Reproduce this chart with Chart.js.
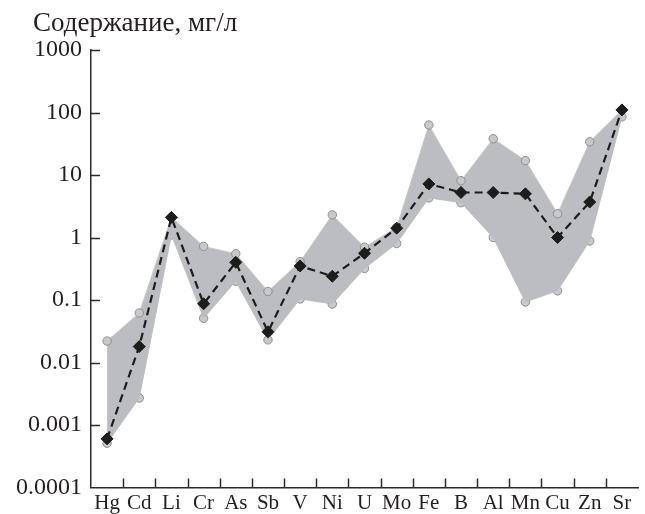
<!DOCTYPE html>
<html>
<head>
<meta charset="utf-8">
<script src="https://cdn.jsdelivr.net/npm/chart.js@4.4.0/dist/chart.umd.min.js"></script>
<style>
  html, body { margin: 0; padding: 0; background: #fff; }
  #wrap { width: 645px; height: 514px; }
</style>
</head>
<body>
<div id="wrap"><canvas id="chart" width="645" height="514"></canvas></div>
<script>
// elements and concentrations (mg/l)
const elements = ["Hg", "Cd", "Li", "Cr", "As", "Sb", "V", "Ni", "U", "Mo", "Fe", "B", "Al", "Mn", "Cu", "Zn", "Sr"];
const maxValues = [0.022, 0.062, 2.1, 0.72, 0.55, 0.137, 0.41, 2.3, 0.70, 1.45, 63, 8.1, 38, 17, 2.4, 34, 110];
const minValues = [0.00051, 0.0027, 1.1, 0.051, 0.20, 0.023, 0.104, 0.086, 0.32, 0.80, 4.3, 3.6, 1.0, 0.093, 0.14, 0.88, 85];
const medianValues = [0.0006, 0.018, 2.1, 0.087, 0.40, 0.031, 0.35, 0.24, 0.56, 1.41, 7.2, 5.25, 5.25, 5.0, 1.0, 3.7, 110];
const yTickValues = [0.0001, 0.001, 0.01, 0.1, 1, 10, 100, 1000];
const yTickLabels = ["0.0001", "0.001", "0.01", "0.1", "1", "10", "100", "1000"];
const yTitle = "Содержание, мг/л";

const axisColor = "#2b2b2b";
const textColor = "#231f20";
const serif = "'Liberation Serif', 'DejaVu Serif', serif";

// ticks are drawn inward, like in the paper figure; axis title sits top-left
const paperAxes = {
  id: "paperAxes",
  afterDraw(chart) {
    const { ctx, chartArea, scales } = chart;
    const len = 9;
    ctx.save();
    ctx.strokeStyle = axisColor;
    ctx.lineWidth = 1.5;
    ctx.beginPath();
    yTickValues.forEach((v) => {
      if (v === yTickValues[0]) return;
      const y = Math.round(scales.y.getPixelForValue(v)) + 0.5;
      ctx.moveTo(chartArea.left, y);
      ctx.lineTo(chartArea.left + len, y);
    });
    for (let i = 1; i < elements.length; i++) {
      const x = Math.round((scales.x.getPixelForValue(i - 1) + scales.x.getPixelForValue(i)) / 2) + 0.5;
      ctx.moveTo(x, chartArea.bottom);
      ctx.lineTo(x, chartArea.bottom - len);
    }
    ctx.stroke();

    ctx.fillStyle = textColor;
    ctx.font = "27px " + serif;
    ctx.textAlign = "left";
    ctx.textBaseline = "alphabetic";
    ctx.fillText(yTitle, 33, 31);
    ctx.restore();
  },
};

const circlePoints = {
  pointStyle: "circle",
  pointRadius: 4.2,
  pointBackgroundColor: "#c9c9cb",
  pointBorderColor: "#8e8e90",
  pointBorderWidth: 1,
};

new Chart(document.getElementById("chart"), {
  type: "line",
  data: {
    labels: elements,
    datasets: [
      {
        label: "median",
        data: medianValues,
        borderColor: "#1c1c1c",
        borderWidth: 2.2,
        borderDash: [8, 5],
        pointStyle: "rectRot",
        pointRadius: 6,
        pointBackgroundColor: "#1c1c1c",
        pointBorderColor: "#1c1c1c",
        pointBorderWidth: 1,
        fill: false,
        order: 0,
      },
      {
        label: "max",
        data: maxValues,
        borderColor: "#c7c8ca",
        borderWidth: 1,
        backgroundColor: "#bcbdc0",
        fill: "+1",
        order: 1,
        ...circlePoints,
      },
      {
        label: "min",
        data: minValues,
        borderColor: "#c7c8ca",
        borderWidth: 1,
        fill: false,
        order: 2,
        ...circlePoints,
      },
    ],
  },
  options: {
    responsive: false,
    animation: false,
    layout: { padding: { top: 50, left: 0, right: 0, bottom: 0 } },
    elements: { line: { tension: 0 } },
    plugins: {
      legend: { display: false },
      tooltip: { enabled: false },
      title: { display: false },
    },
    scales: {
      x: {
        type: "category",
        offset: true,
        grid: { display: false, drawTicks: false },
        border: { display: true, color: axisColor, width: 1.5 },
        ticks: {
          color: textColor,
          font: { family: serif, size: 21 },
          padding: 3,
          maxRotation: 0,
          autoSkip: false,
        },
        afterFit(scale) { scale.height = 26.5; },
      },
      y: {
        type: "logarithmic",
        min: 0.0001,
        max: 1000,
        grid: { display: false, drawTicks: false },
        border: { display: true, color: axisColor, width: 1.5 },
        afterBuildTicks(scale) {
          scale.ticks = yTickValues.map((v) => ({ value: v }));
        },
        ticks: {
          color: textColor,
          font: { family: serif, size: 24 },
          padding: 9,
          autoSkip: false,
          callback: (value) => {
            const i = yTickValues.indexOf(value);
            return i >= 0 ? yTickLabels[i] : "";
          },
        },
        afterFit(scale) { scale.width = 91; },
      },
    },
  },
  plugins: [paperAxes],
});
</script>
</body>
</html>
